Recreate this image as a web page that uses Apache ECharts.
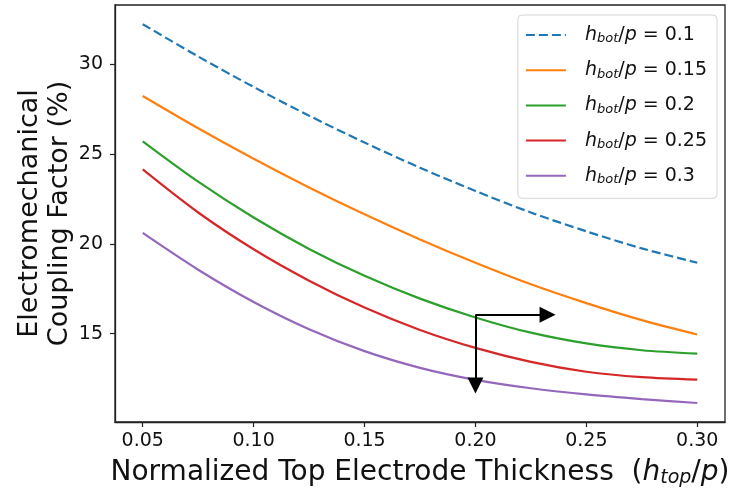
<!DOCTYPE html>
<html><head><meta charset="utf-8">
<script src="https://cdn.jsdelivr.net/npm/echarts@6/dist/echarts.min.js"></script>
<style>html,body{margin:0;padding:0;background:#fff}#c{width:735px;height:495px}</style>
</head><body><div id="c"></div>
<script>
const xValues = [0.05, 0.075, 0.10, 0.125, 0.15, 0.175, 0.20, 0.225, 0.25, 0.275, 0.30];
const hbot01  = [32.25, 30.45, 28.75, 27.15, 25.65, 24.25, 22.95, 21.75, 20.70, 19.75, 18.95];
const hbot015 = [28.25, 26.45, 24.75, 23.15, 21.65, 20.25, 18.95, 17.75, 16.70, 15.75, 14.95];
const hbot02  = [25.72, 23.47, 21.47, 19.72, 18.22, 16.95, 15.90, 15.05, 14.45, 14.07, 13.88];
const hbot025 = [24.15, 21.75, 19.70, 17.95, 16.45, 15.20, 14.20, 13.42, 12.87, 12.57, 12.43];
const hbot03  = [20.61, 18.56, 16.76, 15.24, 14.02, 13.09, 12.42, 11.95, 11.61, 11.35, 11.13];
const seriesLabels = ['0.1', '0.15', '0.2', '0.25', '0.3'];
const xTicks = [0.05, 0.10, 0.15, 0.20, 0.25, 0.30];
const yTicks = [15, 20, 25, 30];
const arrowCorner = [0.20, 16.05];
const arrowRightEnd = [0.2325, 16.05];
const arrowDownEnd = [0.20, 12.1];

const colors = ['#1f77b4', '#ff7f0e', '#2ca02c', '#d62728', '#9467bd'];
const allData = [hbot01, hbot015, hbot02, hbot025, hbot03];
const names = seriesLabels.map(v => 'hbot/p = ' + v);

const series = allData.map((arr, i) => ({
  name: names[i],
  type: 'line',
  data: arr.map((y, j) => [xValues[j], y]),
  smooth: 0.3,
  symbol: 'none',
  showSymbol: false,
  lineStyle: { color: colors[i], width: 2.2, type: i === 0 ? [9, 4] : 'solid' },
  itemStyle: { color: colors[i] },
  z: 3
}));
series.push({
  name: 'arrows',
  type: 'line',
  data: [],
  markLine: {
    silent: true,
    symbol: ['none', 'triangle'],
    symbolSize: [16, 16],
    label: { show: false },
    lineStyle: { color: '#000', width: 2, type: 'solid' },
    itemStyle: { color: '#000' },
    data: [
      [{ coord: arrowCorner }, { coord: arrowRightEnd }],
      [{ coord: arrowCorner }, { coord: arrowDownEnd }]
    ]
  },
  z: 5
});

const chart = echarts.init(document.getElementById('c'));
const txt = '#111';
chart.setOption({
  animation: false,
  backgroundColor: '#fff',
  textStyle: { fontFamily: 'DejaVu Sans' },
  grid: { left: 115, right: 10, top: 5, bottom: 73, show: true, borderColor: '#222', borderWidth: 1.3 },
  legend: {
    data: names,
    orient: 'vertical',
    right: 18, top: 15,
    padding: [10, 10, 12, 7],
    itemWidth: 40, itemHeight: 14, itemGap: 14.7,
    itemStyle: { opacity: 0 },
    borderColor: '#d6d6d6', borderWidth: 1, borderRadius: 4,
    backgroundColor: 'rgba(255,255,255,0.8)',
    formatter: function (n) {
      const v = n.split('= ')[1];
      return '{i|h}{sub|bot}{n|/}{i|p}{n| = ' + v + '}';
    },
    textStyle: {
      color: txt, fontFamily: 'DejaVu Sans', fontSize: 19, lineHeight: 20, padding: [0, 0, 0, 14],
      rich: {
        i: { fontFamily: 'DejaVu Sans', fontStyle: 'italic', fontSize: 19, color: txt },
        sub: { fontFamily: 'DejaVu Sans', fontStyle: 'italic', fontSize: 13, color: txt, padding: [8, 0, 0, 0] },
        n: { fontFamily: 'DejaVu Sans', fontSize: 19, color: txt }
      }
    }
  },
  xAxis: {
    type: 'value', min: 0.0375, max: 0.3125,
    splitLine: { show: false },
    axisLine: { show: true, onZero: false, lineStyle: { color: '#222', width: 1.3 } },
    axisTick: { show: true, length: 5, customValues: xTicks, lineStyle: { color: '#222', width: 1.2 } },
    axisLabel: { customValues: xTicks, formatter: v => v.toFixed(2), fontSize: 19, color: txt, margin: 10, fontFamily: 'DejaVu Sans' },
    name: 'Normalized Top Electrode Thickness  ({i|h}{sub|top}/{i|p})',
    nameLocation: 'middle', nameGap: 36,
    nameTextStyle: {
      fontSize: 28, color: txt, fontFamily: 'DejaVu Sans',
      rich: {
        i: { fontStyle: 'italic', fontSize: 28, color: txt, fontFamily: 'DejaVu Sans' },
        sub: { fontStyle: 'italic', fontSize: 19, color: txt, fontFamily: 'DejaVu Sans', padding: [11, 0, 0, 0] }
      }
    }
  },
  yAxis: {
    type: 'value', min: 10.07, max: 33.32,
    splitLine: { show: false },
    axisLine: { show: true, onZero: false, lineStyle: { color: '#222', width: 1.3 } },
    axisTick: { show: true, length: 5, customValues: yTicks, lineStyle: { color: '#222', width: 1.2 } },
    axisLabel: { customValues: yTicks, fontSize: 19, color: txt, margin: 12, fontFamily: 'DejaVu Sans' },
    name: 'Electromechanical\nCoupling Factor (%)',
    nameLocation: 'middle', nameGap: 40, nameRotate: 90, nameMoveOverlap: false,
    nameTextStyle: { fontSize: 27, lineHeight: 30, color: txt, fontFamily: 'DejaVu Sans' }
  },
  series: series
});
</script>
</body></html>
